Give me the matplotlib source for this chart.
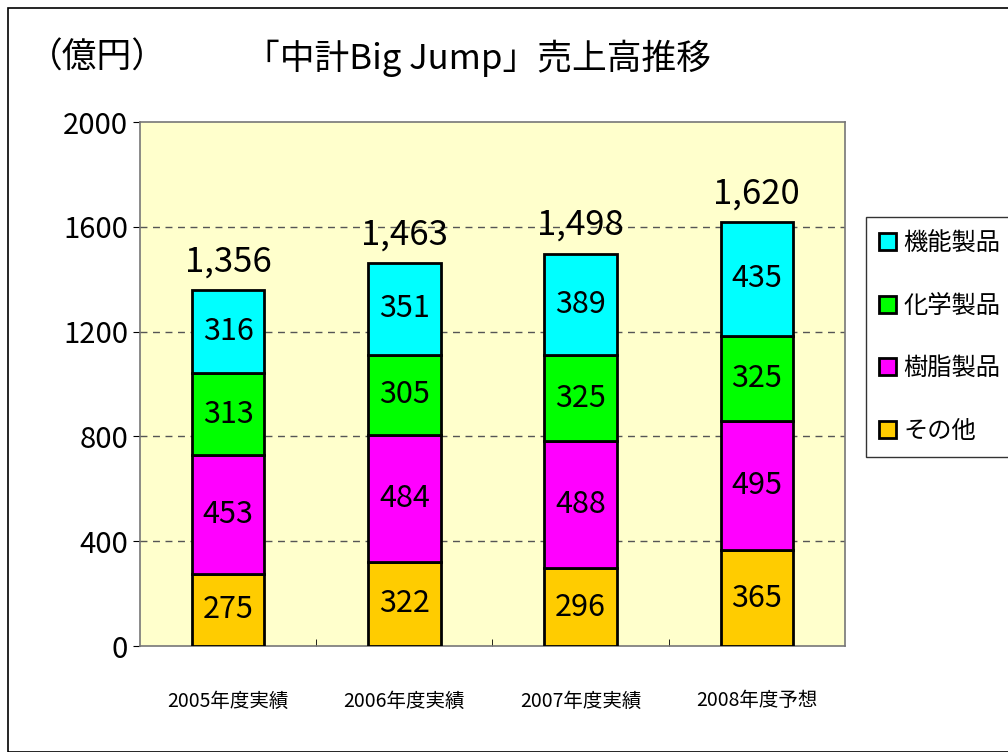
import matplotlib.pyplot as plt
from matplotlib.patches import Rectangle

plt.rcParams['font.family'] = ['Noto Sans CJK JP', 'DejaVu Sans']

years = ["2005年度実績", "2006年度実績", "2007年度実績", "2008年度予想"]
sonota = [275, 322, 296, 365]
jushi = [453, 484, 488, 495]
kagaku = [313, 305, 325, 325]
kino = [316, 351, 389, 435]
totals = ["1,356", "1,463", "1,498", "1,620"]
labels = ["その他", "樹脂製品", "化学製品", "機能製品"]
colors = ["#FFCC00", "#FF00FF", "#00FF00", "#00FFFF"]

fig = plt.figure(figsize=(10.08, 7.52), dpi=100)
fig.patches.append(Rectangle((8 / 1008, 0), 1.2, (752 - 8) / 752, transform=fig.transFigure,
                             fill=False, edgecolor="black", linewidth=1.2))
ax = fig.add_axes([140 / 1008, 106 / 752, 705 / 1008, 524 / 752])
ax.set_facecolor("#FFFFCC")

x = range(len(years))
bottom = [0, 0, 0, 0]
handles = []
for series, lab, col in zip([sonota, jushi, kagaku, kino], labels, colors):
    bars = ax.bar(x, series, width=0.41, bottom=bottom, color=col,
                  edgecolor="black", linewidth=2, zorder=3, label=lab)
    for i, v in enumerate(series):
        ax.text(i, bottom[i] + v / 2, str(v), ha="center", va="center",
                fontsize=22, zorder=4)
    bottom = [b + v for b, v in zip(bottom, series)]
    handles.append(bars)

for i, t in enumerate(totals):
    ax.text(i, bottom[i] + 40, t, ha="center", va="bottom", fontsize=25)

ax.set_xlim(-0.5, 3.5)
ax.set_ylim(0, 2000)
ax.set_yticks(range(0, 2001, 400))
ax.tick_params(axis="y", labelsize=21, length=5, direction="out")
ax.set_xticks(list(x))
ax.set_xticklabels(years, fontsize=14)
ax.tick_params(axis="x", length=0, pad=32)
ax.set_xticks([0.5, 1.5, 2.5], minor=True)
ax.tick_params(axis="x", which="minor", length=5, direction="in")
for y in [400, 800, 1200, 1600]:
    ax.axhline(y, color="#555555", linestyle=(0, (5, 4)), linewidth=1, zorder=1)
for s in ax.spines.values():
    s.set_color("#777777")
    s.set_linewidth(1.2)

fig.text(28 / 1008, 1 - 58 / 752, "（億円）", fontsize=25, va="center", ha="left")
fig.text(245 / 1008, 1 - 58 / 752, "「中計Big Jump」売上高推移", fontsize=25,
         va="center", ha="left")

leg = fig.legend(handles[::-1], labels[::-1], loc="upper left",
                 bbox_to_anchor=(866 / 1008, 1 - 217 / 752), fontsize=17.5,
                 frameon=True, fancybox=False, edgecolor="black",
                 handlelength=0.7, handleheight=0.7, handletextpad=0.3,
                 labelspacing=1.5, borderpad=0.55, borderaxespad=0)
leg.get_frame().set_linewidth(1)

fig.savefig("out.png", dpi=100)
